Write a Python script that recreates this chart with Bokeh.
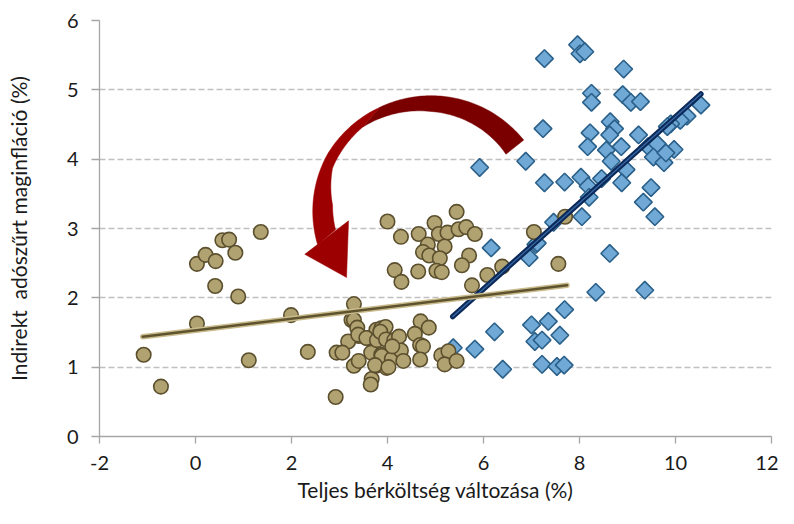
import numpy as np
from bokeh.plotting import figure
from bokeh.models import Range1d, FixedTicker
from bokeh.embed import file_html
from bokeh.resources import INLINE

# ---------------- data ----------------
olive_x = [-1.08, -0.72, 0.03, 0.03, 0.21, 0.42, 0.56, 0.70, 0.83, 0.41, 0.89, 1.11, 1.36, 1.99, 2.34, 2.92,
           3.30, 3.25, 3.30, 3.37, 3.40, 3.18, 2.94, 3.06, 3.30, 3.40, 3.67, 3.65, 3.76, 3.98, 3.66, 3.87,
           3.59, 3.77, 3.87, 3.96, 3.39, 3.56, 3.78, 3.85, 3.97, 4.14, 4.24, 3.88, 4.09, 4.28, 4.33, 4.10,
           4.69, 4.86, 4.57, 4.68, 4.74, 4.68, 5.12, 5.27, 5.19, 5.44, 3.74, 4.02,
           4.00, 4.28, 4.65, 4.98, 5.44, 4.84, 5.07, 5.25, 5.48, 5.64, 5.82, 5.19, 4.74, 4.87, 5.09, 5.70,
           5.55, 4.15, 4.29, 4.64, 5.02, 5.13, 5.76, 6.08, 6.39, 7.05, 7.56, 7.70]
olive_y = [1.18, 0.72, 2.49, 1.63, 2.62, 2.53, 2.83, 2.84, 2.65, 2.17, 2.02, 1.10, 2.95, 1.75, 1.22, 0.57,
           1.91, 1.68, 1.68, 1.57, 1.45, 1.37, 1.21, 1.21, 1.02, 1.09, 0.83, 0.75, 1.02, 0.99, 1.21, 1.18,
           1.42, 1.54, 1.56, 1.58, 1.47, 1.42, 1.39, 1.51, 1.40, 1.39, 1.44, 1.16, 1.12, 1.24, 1.09, 1.30,
           1.66, 1.57, 1.48, 1.32, 1.30, 1.11, 1.17, 1.23, 1.04, 1.09, 1.03, 1.00,
           3.10, 2.88, 2.92, 3.08, 3.24, 2.77, 2.92, 2.94, 2.99, 3.02, 2.92, 2.74, 2.66, 2.61, 2.57, 2.61,
           2.47, 2.40, 2.23, 2.38, 2.39, 2.37, 2.18, 2.33, 2.45, 2.95, 2.49, 3.17]

blue_x = [7.96, 8.01, 8.11, 7.27, 8.92, 8.25, 8.25, 8.90, 9.07, 9.27, 10.53, 10.24, 10.10, 9.90, 9.83,
          7.24, 8.64, 8.73, 8.63, 8.22, 9.23, 8.17, 8.56, 8.87, 8.66, 8.97, 9.43, 9.62, 9.54, 9.76, 9.97,
          9.80, 5.92, 6.88, 7.27, 7.69, 8.03, 8.18, 8.46, 8.88, 9.49, 9.33, 9.57, 8.20, 8.05, 7.46, 6.16,
          8.63, 7.09, 6.95, 7.12, 8.34, 9.36, 7.69, 6.23, 7.00, 7.35, 7.59, 7.07, 7.22, 5.37, 5.82, 6.40,
          7.22, 7.53, 7.68]
blue_y = [5.65, 5.52, 5.55, 5.45, 5.30, 4.95, 4.82, 4.93, 4.82, 4.83, 4.78, 4.62, 4.56, 4.51, 4.47,
          4.44, 4.54, 4.44, 4.35, 4.38, 4.35, 4.18, 4.13, 4.18, 3.97, 3.85, 4.18, 4.22, 4.03, 3.95, 4.14,
          4.09, 3.88, 3.97, 3.66, 3.67, 3.74, 3.61, 3.72, 3.66, 3.59, 3.38, 3.17, 3.45, 3.17, 3.09, 2.72,
          2.64, 2.77, 2.58, 2.79, 2.08, 2.11, 1.83, 1.51, 1.61, 1.66, 1.46, 1.37, 1.39, 1.28, 1.26, 0.97,
          1.04, 1.01, 1.03]

olive_trend_x = [-1.10, 7.74]
olive_trend_y = [1.44, 2.18]
blue_trend_x = [5.36, 10.53]
blue_trend_y = [1.73, 4.94]

x_ticks = [-2, 0, 2, 4, 6, 8, 10, 12]
x_tick_labels = ["-2", "0", "2", "4", "6", "8", "10", "12"]
y_ticks = [0, 1, 2, 3, 4, 5, 6]
x_title = "Teljes bérköltség változása (%)"
y_title = "Indirekt\u00a0 adószűrt maginfláció (%)"

FONT = "Lato"

# ---------------- figure ----------------
W, H = 778, 508
ML, MR, MT, MB = 99, 7, 20, 72
p = figure(width=W, height=H, output_backend="svg", toolbar_location=None,
           x_range=Range1d(-2, 12), y_range=Range1d(0, 6),
           min_border_left=ML, min_border_right=MR, min_border_top=MT, min_border_bottom=MB)
p.outline_line_color = None
p.background_fill_color = "white"
p.border_fill_color = "white"

p.xgrid.grid_line_color = None
p.ygrid.grid_line_color = "#c0c0c0"
p.ygrid.grid_line_width = 1.5
p.ygrid.grid_line_dash = "6 3"
p.ygrid.ticker = FixedTicker(ticks=[1, 2, 3, 4, 5, 6])

for ax in (p.xaxis[0], p.yaxis[0]):
    ax.axis_line_color = "#a6a6a6"
    ax.axis_line_width = 1.3
    ax.major_tick_line_color = "#a6a6a6"
    ax.major_tick_line_width = 1.3
    ax.major_tick_in = 0
    ax.minor_tick_line_color = None
    ax.major_label_text_font = FONT
    ax.major_label_text_font_size = "20px"
    ax.major_label_text_color = "#1a1a1a"
    ax.axis_label_text_font = FONT
    ax.axis_label_text_font_size = "21px"
    ax.axis_label_text_font_style = "normal"
    ax.axis_label_text_color = "#1a1a1a"

p.xaxis.ticker = FixedTicker(ticks=x_ticks)
p.xaxis.major_label_overrides = {t: s for t, s in zip(x_ticks, x_tick_labels)}
p.yaxis.ticker = FixedTicker(ticks=y_ticks)
p.xaxis.major_tick_out = 7
p.yaxis.major_tick_out = 8
p.xaxis.major_label_standoff = 12
p.yaxis.major_label_standoff = 13
p.xaxis.axis_label = x_title
p.xaxis.axis_label_standoff = 4
p.yaxis.axis_label = y_title
p.yaxis.axis_label_standoff = 33

# ---------------- red curved arrow (decoration, built in reference pixel space) ----------------
FL, FR, FT, FB = 99.0, 779.0, 23.0, 446.0   # reference frame edges
def to_data(px, py):
    px = np.asarray(px, dtype=float); py = np.asarray(py, dtype=float)
    return (-2 + (px - FL) * 14.0 / (FR - FL)).tolist(), ((FB - py) * 6.0 / (FB - FT)).tolist()

cx, cy, R_out = 434.5, 219.5, 120.0
def arc(t0, t1, rfun, n=60):
    t = np.linspace(t0, t1, n)
    r = rfun(t)
    th = np.radians(t)
    return cx + r * np.cos(th), cy - r * np.sin(th)

def r_inner(t):
    return np.interp(t, [38.6, 90, 128, 155, 175, 189.5], [97, 104, 112, 110, 100, 98])

# back face (dark)
ox, oy = arc(38.6, 115.5, lambda t: np.full_like(t, R_out))
ix, iy = arc(128, 38.6, r_inner)
bx, by = to_data(np.concatenate([ox, ix]), np.concatenate([oy, iy]))
p.patch(bx, by, fill_color="#7a0000", line_color="#7a0000", line_width=0.5)

# front face (brighter)
ox, oy = arc(115.5, 195.4, lambda t: np.interp(t, [115.5, 150, 195.4], [120, 121, 119]))
ix, iy = arc(189.5, 128, r_inner)
fx, fy = to_data(np.concatenate([ox, ix]), np.concatenate([oy, iy]))
p.patch(fx, fy, fill_color="#9c0000", line_color="#9c0000", line_width=0.5)

# arrow head
hx, hy = to_data([306.7, 351.0, 349.0], [260.7, 226.7, 284.3])
p.patch(hx, hy, fill_color="#9c0000", line_color="#9c0000", line_width=0.5)

# ---------------- data marks ----------------
p.scatter(blue_x, blue_y, marker="square", angle=np.pi / 4, size=12.5,
          fill_color="#70a9d6", line_color="#2a6089", line_width=1.6)
p.scatter(olive_x, olive_y, marker="circle", size=14.5,
          fill_color="#b0a271", line_color="#5b4f2d", line_width=1.6)

p.line(blue_trend_x, blue_trend_y, line_color="#0b2a5a", line_width=5.5, line_cap="round")
p.line(blue_trend_x, blue_trend_y, line_color="#3a6aa6", line_width=1.2, line_cap="round")
p.line(olive_trend_x, olive_trend_y, line_color="#c9bb8c", line_width=5.5, line_cap="round")
p.line(olive_trend_x, olive_trend_y, line_color="#5e532f", line_width=2.5, line_cap="round")

open("out.html", "w").write(file_html(p, INLINE))
